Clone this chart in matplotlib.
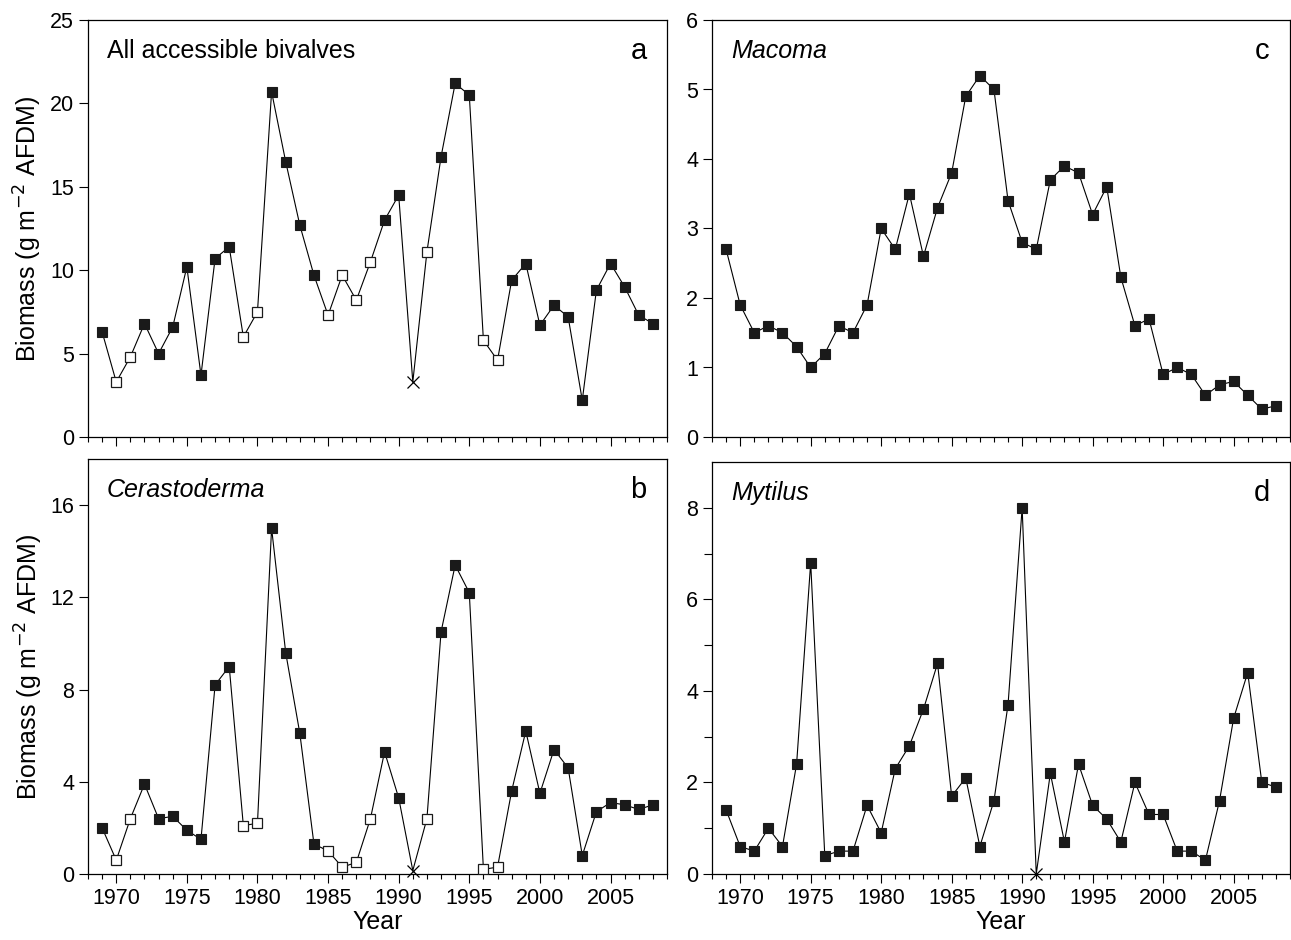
import numpy as np
import matplotlib
matplotlib.use("Agg")
import matplotlib.pyplot as plt

plt.rcParams['font.family'] = ['Liberation Sans', 'DejaVu Sans']

years = np.arange(1969, 2009)

# All accessible bivalves
bivalves = [6.3, 3.3, 4.8, 6.8, 5.0, 6.6, 10.2, 3.7, 10.7, 11.4,
            6.0, 7.5, 20.7, 16.5, 12.7, 9.7, 7.3, 9.7, 8.2, 10.5,
            13.0, 14.5, 3.3, 11.1, 16.8, 21.2, 20.5, 5.8, 4.6, 9.4,
            10.4, 6.7, 7.9, 7.2, 2.2, 8.8, 10.4, 9.0, 7.3, 6.8]

cerastoderma = [2.0, 0.6, 2.4, 3.9, 2.4, 2.5, 1.9, 1.5, 8.2, 9.0,
                2.1, 2.2, 15.0, 9.6, 6.1, 1.3, 1.0, 0.3, 0.5, 2.4,
                5.3, 3.3, 0.15, 2.4, 10.5, 13.4, 12.2, 0.2, 0.3, 3.6,
                6.2, 3.5, 5.4, 4.6, 0.8, 2.7, 3.1, 3.0, 2.8, 3.0]

macoma = [2.7, 1.9, 1.5, 1.6, 1.5, 1.3, 1.0, 1.2, 1.6, 1.5,
          1.9, 3.0, 2.7, 3.5, 2.6, 3.3, 3.8, 4.9, 5.2, 5.0,
          3.4, 2.8, 2.7, 3.7, 3.9, 3.8, 3.2, 3.6, 2.3, 1.6,
          1.7, 0.9, 1.0, 0.9, 0.6, 0.75, 0.8, 0.6, 0.4, 0.45]

mytilus = [1.4, 0.6, 0.5, 1.0, 0.6, 2.4, 6.8, 0.4, 0.5, 0.5,
           1.5, 0.9, 2.3, 2.8, 3.6, 4.6, 1.7, 2.1, 0.6, 1.6,
           3.7, 8.0, 0.0, 2.2, 0.7, 2.4, 1.5, 1.2, 0.7, 2.0,
           1.3, 1.3, 0.5, 0.5, 0.3, 1.6, 3.4, 4.4, 2.0, 1.9]

# years drawn with open squares / crosses
open_years = [1970, 1971, 1979, 1980, 1985, 1986, 1987, 1988, 1992, 1996, 1997]
cross_year = [1991]

panels = [
    ("All accessible bivalves", "a", bivalves, open_years, cross_year, 25, [0, 5, 10, 15, 20, 25], None, False),
    ("Cerastoderma", "b", cerastoderma, open_years, cross_year, 18, [0, 4, 8, 12, 16], None, True),
    ("Macoma", "c", macoma, [], [], 6, [0, 1, 2, 3, 4, 5, 6], None, True),
    ("Mytilus", "d", mytilus, [], cross_year, 9, [0, 2, 4, 6, 8], [1, 3, 5, 7], True),
]

positions = {
    "a": [88/1291, 1 - 437/940, 579/1291, 417/940],
    "b": [88/1291, 1 - 874/940, 579/1291, 415/940],
    "c": [712/1291, 1 - 437/940, 578/1291, 417/940],
    "d": [712/1291, 1 - 874/940, 578/1291, 412/940],
}

fig = plt.figure(figsize=(12.91, 9.40), dpi=100)

for title, letter, vals, oy, xy, ymax, yt, yminor, italic in panels:
    ax = fig.add_axes(positions[letter])
    vals = np.array(vals)
    o = np.isin(years, oy)
    x = np.isin(years, xy)
    f = ~(o | x)
    ax.plot(years, vals, color="black", lw=0.8, zorder=2)
    ax.plot(years[f], vals[f], ls="none", marker="s", ms=7, mfc="#1a1a1a",
            mec="#1a1a1a", mew=0.8, zorder=3)
    ax.plot(years[o], vals[o], ls="none", marker="s", ms=7, mfc="white",
            mec="#1a1a1a", mew=0.9, zorder=3)
    ax.plot(years[x], vals[x], ls="none", marker="x", ms=8, color="black",
            mew=0.9, zorder=3, clip_on=False)
    ax.set_xlim(1968, 2009)
    ax.set_ylim(0, ymax)
    ax.set_xticks(range(1970, 2009, 5))
    ax.set_xticks(range(1968, 2010), minor=True)
    ax.set_yticks(yt)
    if yminor:
        ax.set_yticks(yminor, minor=True)
        ax.tick_params(axis="y", which="minor", length=6, width=0.8, direction="out")
    ax.tick_params(axis="both", which="major", length=6.5, width=0.8,
                   direction="out", labelsize=15.5)
    ax.tick_params(axis="x", which="minor", length=3.8, width=0.8, direction="out")
    for s in ax.spines.values():
        s.set_linewidth(0.9)
    if letter in ("a", "c"):
        ax.tick_params(axis="x", labelbottom=False)
    else:
        ax.set_xlabel("Year", fontsize=18, labelpad=1)
    if letter in ("a", "b"):
        ax.set_ylabel("Biomass (g m$^{-2}$ AFDM)", fontsize=18, labelpad=4)
    ax.text(0.033, 0.925, title, transform=ax.transAxes, fontsize=18,
            style="italic" if italic else "normal", va="center", ha="left")
    ax.text(0.965, 0.925, letter, transform=ax.transAxes, fontsize=21,
            va="center", ha="right")

fig.savefig("out.png", dpi=100)
